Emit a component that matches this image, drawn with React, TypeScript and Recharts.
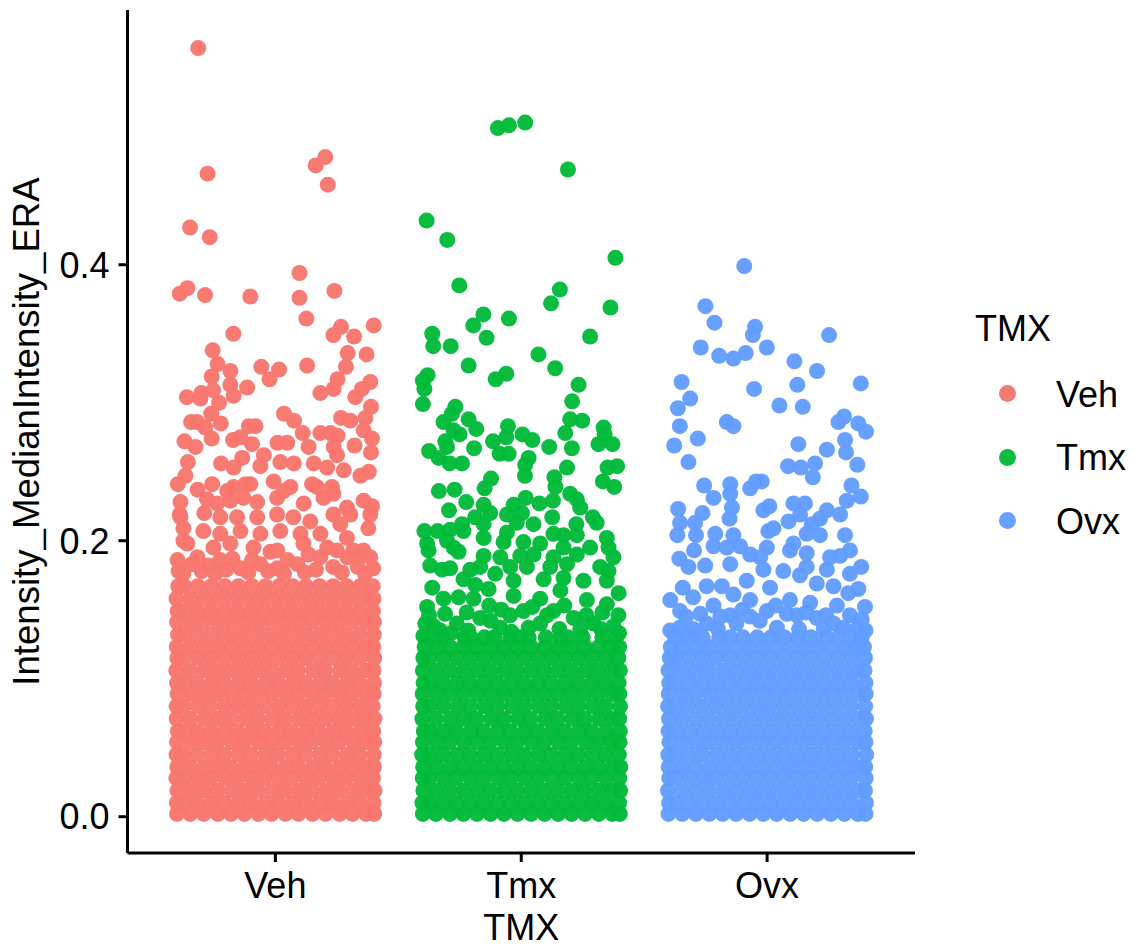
import React from "react";
import { ScatterChart, Scatter, XAxis, YAxis, Legend, Label } from "recharts";

const categories = ["Veh", "Tmx", "Ovx"];
const colors = ["#F8766D", "#00BA38", "#619CFF"];
const yTicks = [0, 0.2, 0.4];
const xTicks = [1, 2, 3];

// [jitter offset from the category, value]
const vehSparse = [
  [-0.314,0.557],[-0.276,0.466],[0.203,0.478],[0.164,0.472],[0.213,0.458],[-0.347,0.427],[-0.267,0.420],[0.098,0.394],
  [0.240,0.381],[-0.358,0.383],[-0.389,0.379],[-0.286,0.378],[-0.102,0.377],[0.098,0.376],[0.126,0.361],[0.400,0.356],
  [0.267,0.355],[-0.171,0.350],[0.236,0.349],[0.320,0.348],[-0.255,0.338],[0.294,0.336],[0.371,0.335],[-0.235,0.328],
  [-0.057,0.326],[0.129,0.327],[0.287,0.326],[0.015,0.324],[-0.183,0.323],[-0.259,0.319],[-0.024,0.317],[0.253,0.317],
  [0.386,0.315],[-0.183,0.313],[-0.115,0.311],[0.237,0.310],[-0.253,0.309],[0.352,0.310],[-0.360,0.304],[-0.301,0.307],
  [-0.305,0.303],[-0.170,0.305],[0.183,0.307],[0.325,0.304],[-0.229,0.300],[0.389,0.297],[-0.261,0.292],[0.035,0.292],
  [0.076,0.287],[0.267,0.289],[0.305,0.287],[0.366,0.289],[-0.343,0.286],[-0.318,0.286],[-0.222,0.285],[-0.108,0.283],
  [-0.081,0.283],[-0.285,0.282],[0.359,0.280],[0.111,0.278],[0.183,0.278],[0.224,0.278],[0.253,0.276],[-0.142,0.275],
  [-0.172,0.273],[-0.259,0.274],[-0.370,0.272],[0.393,0.274],[-0.095,0.270],[0.009,0.271],[0.048,0.271],[-0.325,0.268],
  [0.135,0.268],[0.322,0.269],[0.237,0.268],[0.389,0.264],[-0.047,0.262],[-0.135,0.260],[0.251,0.262],[-0.356,0.257],
  [-0.221,0.256],[-0.170,0.253],[-0.061,0.254],[0.020,0.257],[0.075,0.256],[0.156,0.256],[0.210,0.253],[0.278,0.251],
  [0.380,0.250],[0.346,0.247],[-0.366,0.247],[-0.397,0.241],[-0.257,0.241],[-0.316,0.237],[-0.170,0.239],[-0.102,0.241],
  [-0.007,0.243],[0.061,0.239],[0.149,0.241],[0.230,0.239],[-0.278,0.230],[-0.386,0.228],[-0.183,0.229],[-0.074,0.228],
  [0.007,0.231],[0.115,0.227],[0.196,0.231],[0.291,0.224],[0.359,0.229],[0.393,0.225],[-0.289,0.220],[-0.389,0.219],
  [-0.196,0.236],[-0.122,0.241],[0.033,0.236],[0.169,0.239],[0.236,0.234],[-0.130,0.231],[-0.386,0.217],[-0.374,0.209],
  [-0.237,0.227],[-0.224,0.217],[-0.156,0.217],[-0.074,0.217],[0.007,0.219],[0.073,0.217],[0.142,0.214],[0.236,0.219],
  [0.305,0.219],[0.386,0.219],[0.378,0.209],[0.264,0.212],[-0.293,0.207],[-0.224,0.205],[-0.142,0.207],[-0.061,0.205],
  [0.020,0.207],[0.102,0.205],[0.183,0.205],[0.291,0.202],[-0.374,0.200],[-0.358,0.198],[-0.252,0.195],[-0.183,0.198],
  [-0.089,0.195],[0.008,0.193],[0.114,0.198],[0.211,0.195],[0.317,0.193],[0.358,0.193],[-0.398,0.186],[-0.394,0.178],
  [-0.317,0.188],[-0.224,0.186],[-0.061,0.183],[0.049,0.186],[0.183,0.188],[0.293,0.188],[0.398,0.180],[0.386,0.188],
  [-0.142,0.180],[0.008,0.180],
  [-0.375,0.176],[-0.340,0.183],[-0.300,0.178],[-0.270,0.182],[-0.245,0.176],[-0.200,0.179],[-0.175,0.187],[-0.110,0.177],
  [-0.095,0.186],[-0.030,0.178],[-0.020,0.192],[0.035,0.176],[0.090,0.183],[0.120,0.177],[0.135,0.190],[0.165,0.179],
  [0.235,0.181],[0.250,0.193],[0.270,0.177],[0.335,0.181],[0.345,0.190],[0.365,0.176],
];

const tmxSparse = [
  [-0.095,0.499],[-0.050,0.501],[0.016,0.503],[0.190,0.469],[-0.385,0.432],[-0.301,0.418],[0.383,0.405],[-0.252,0.385],
  [0.157,0.382],[0.121,0.372],[0.363,0.369],[-0.154,0.364],[-0.050,0.361],[-0.195,0.356],[-0.141,0.347],[0.280,0.348],
  [-0.362,0.350],[-0.358,0.341],[-0.287,0.341],[0.070,0.335],[-0.214,0.327],[0.138,0.325],[0.233,0.313],[-0.061,0.321],
  [-0.104,0.317],[-0.381,0.320],[-0.400,0.316],[-0.394,0.310],[-0.400,0.299],[0.207,0.301],[-0.268,0.297],[-0.282,0.292],
  [-0.316,0.286],[-0.214,0.288],[-0.183,0.281],[0.199,0.288],[0.248,0.287],[0.335,0.282],[-0.054,0.283],[-0.275,0.280],
  [0.005,0.277],[0.179,0.278],[-0.061,0.275],[-0.251,0.277],[0.045,0.273],[0.339,0.277],[-0.115,0.272],[-0.309,0.272],
  [0.314,0.270],[0.371,0.270],[0.114,0.268],[-0.192,0.267],[0.206,0.267],[-0.302,0.268],[-0.375,0.265],[-0.088,0.263],
  [-0.051,0.263],[-0.336,0.260],[0.030,0.260],[-0.241,0.256],[-0.291,0.256],[0.016,0.255],[0.186,0.253],[0.390,0.254],
  [0.351,0.253],[0.015,0.247],[0.135,0.246],[-0.123,0.245],[0.332,0.243],[-0.149,0.238],[0.139,0.239],[0.378,0.239],
  [-0.271,0.237],[-0.335,0.236],[0.018,0.231],[0.199,0.234],[0.226,0.230],[-0.224,0.228],[-0.153,0.226],[-0.031,0.226],
  [0.074,0.227],[0.129,0.229],[-0.294,0.222],[0.240,0.224],[-0.126,0.220],[-0.058,0.219],[0.003,0.220],[0.126,0.217],
  [-0.187,0.217],[0.291,0.217],[-0.241,0.212],[-0.153,0.212],[-0.018,0.213],[0.050,0.212],[0.307,0.213],[0.224,0.212],
  [-0.394,0.207],[-0.340,0.207],[-0.289,0.208],[-0.235,0.207],[-0.058,0.206],[0.131,0.205],[0.172,0.204],[0.226,0.204],
  [-0.153,0.202],[0.348,0.202],[-0.383,0.198],[-0.302,0.200],[0.009,0.199],[0.077,0.198],[-0.072,0.199],[0.280,0.195],
  [0.355,0.195],[-0.377,0.193],[-0.275,0.195],[-0.255,0.192],[0.172,0.195],[-0.153,0.189],[-0.004,0.189],[0.131,0.188],
  [0.375,0.188],[-0.085,0.188],[0.050,0.190],[0.226,0.190],[-0.370,0.182],[-0.322,0.179],[-0.289,0.180],[-0.207,0.179],
  [-0.167,0.181],[-0.045,0.181],[0.023,0.181],[0.118,0.181],[0.186,0.183],[0.321,0.181],[0.355,0.178],[-0.106,0.176],
  [-0.235,0.172],[-0.031,0.171],[0.091,0.172],[0.172,0.173],[0.253,0.171],[0.348,0.171],[-0.362,0.166],[-0.133,0.165],
  [-0.187,0.168],[0.396,0.162],[-0.255,0.159],[-0.316,0.158],[-0.031,0.160],[0.159,0.164],[0.267,0.157],[-0.383,0.152],
  [-0.081,0.150],[-0.194,0.158],[0.077,0.158],[0.348,0.154],[0.375,0.138],[-0.390,0.140],[-0.167,0.144],[0.009,0.149],
  [0.131,0.149],[-0.262,0.140],[-0.356,0.138],[-0.085,0.137],[0.077,0.140],[0.213,0.144],[0.294,0.140],
  [-0.375,0.146],[-0.330,0.135],[-0.310,0.147],[-0.285,0.133],[-0.222,0.148],[-0.215,0.135],[-0.125,0.142],[-0.130,0.153],
  [-0.045,0.146],[-0.040,0.134],[0.030,0.137],[0.045,0.152],[0.105,0.146],[0.155,0.136],[0.175,0.153],[0.240,0.136],
  [0.265,0.146],[0.330,0.148],[0.325,0.136],[0.395,0.146],[0.398,0.133],[-0.398,0.131],
];

const ovxSparse = [
  [-0.093,0.399],[-0.251,0.370],[-0.214,0.358],[-0.049,0.355],[-0.058,0.349],[0.252,0.349],[-0.270,0.340],[-0.001,0.340],
  [-0.195,0.334],[-0.137,0.332],[-0.087,0.336],[0.111,0.330],[0.203,0.323],[-0.348,0.315],[0.123,0.313],[0.381,0.314],
  [-0.313,0.303],[-0.053,0.310],[-0.363,0.296],[0.050,0.298],[0.145,0.297],[-0.355,0.283],[-0.282,0.274],[-0.164,0.286],
  [-0.137,0.283],[0.313,0.290],[0.290,0.286],[0.371,0.285],[0.402,0.279],[-0.378,0.269],[0.127,0.270],[0.317,0.273],
  [0.243,0.266],[0.321,0.264],[-0.320,0.257],[0.367,0.255],[0.085,0.254],[0.137,0.253],[0.195,0.256],[0.186,0.246],
  [-0.256,0.240],[-0.150,0.241],[-0.045,0.243],[-0.022,0.243],[-0.069,0.238],[0.343,0.240],[-0.150,0.234],[-0.218,0.231],
  [0.381,0.232],[0.324,0.229],[0.107,0.227],[0.154,0.227],[0.009,0.225],[-0.362,0.223],[-0.143,0.224],[-0.015,0.222],
  [0.243,0.222],[-0.263,0.220],[0.297,0.219],[-0.153,0.216],[0.087,0.214],[0.134,0.219],[0.215,0.216],[-0.354,0.213],
  [-0.293,0.213],[0.182,0.212],[0.026,0.209],[-0.365,0.204],[-0.289,0.204],[0.005,0.207],[-0.211,0.205],[-0.137,0.204],
  [0.215,0.204],[0.161,0.205],[0.317,0.204],[0.107,0.198],[-0.110,0.196],[-0.218,0.196],[-0.001,0.195],[-0.164,0.195],
  [-0.297,0.193],[0.337,0.193],[0.093,0.193],[0.161,0.191],[-0.357,0.187],[-0.069,0.190],[0.256,0.188],[0.297,0.189],
  [-0.028,0.188],[-0.150,0.183],[-0.320,0.181],[-0.252,0.182],[0.383,0.181],[-0.015,0.179],[0.066,0.178],[0.161,0.181],
  [0.243,0.179],[0.337,0.176],[0.134,0.175],[-0.083,0.171],[0.270,0.167],[-0.343,0.166],[-0.246,0.167],[-0.184,0.167],
  [0.371,0.165],[0.330,0.162],[0.012,0.166],[0.202,0.169],[-0.394,0.157],[-0.137,0.161],[-0.301,0.159],[0.093,0.157],
  [-0.069,0.157],[0.175,0.155],[-0.218,0.153],[0.284,0.153],[0.398,0.152],[-0.354,0.149],[-0.001,0.149],[-0.150,0.146],
  [0.121,0.146],[0.337,0.146],[-0.272,0.147],[-0.069,0.145],[0.202,0.144],[-0.394,0.135],
  [-0.355,0.137],[-0.330,0.145],[-0.300,0.136],[-0.245,0.140],[-0.190,0.145],[-0.200,0.136],[-0.125,0.140],[-0.100,0.150],
  [-0.030,0.142],[0.040,0.137],[0.035,0.153],[0.080,0.147],[0.130,0.136],[0.160,0.148],[0.240,0.146],[0.230,0.136],
  [0.270,0.140],[0.310,0.137],[0.385,0.143],[0.370,0.137],[0.400,0.135],
];

// Packed lower band: [value, ...jitter offsets read along that band]
const vehBand = [
  [0.002,-0.400,-0.346,-0.291,-0.234,-0.181,-0.126,-0.069,-0.016,0.041,0.094,0.151,0.204,0.261,0.314,0.369,0.402],
  [0.010,-0.401,-0.372,-0.318,-0.261,-0.208,-0.151,-0.098,-0.041,0.012,0.069,0.122,0.179,0.232,0.289,0.342,0.399],
  [0.019,-0.398,-0.344,-0.292,-0.236,-0.179,-0.125,-0.071,-0.014,0.039,0.096,0.149,0.206,0.259,0.316,0.371,0.403],
  [0.028,-0.403,-0.371,-0.316,-0.263,-0.206,-0.153,-0.096,-0.043,0.014,0.067,0.124,0.177,0.234,0.287,0.344,0.397],
  [0.036,-0.399,-0.347,-0.289,-0.235,-0.182,-0.124,-0.070,-0.017,0.042,0.093,0.152,0.203,0.262,0.313,0.368,0.401],
  [0.045,-0.402,-0.373,-0.317,-0.260,-0.209,-0.150,-0.099,-0.040,0.011,0.070,0.121,0.180,0.231,0.290,0.341,0.400],
  [0.054,-0.400,-0.345,-0.290,-0.237,-0.178,-0.127,-0.068,-0.015,0.040,0.097,0.148,0.207,0.258,0.317,0.370,0.402],
  [0.062,-0.397,-0.370,-0.319,-0.262,-0.205,-0.154,-0.095,-0.044,0.015,0.066,0.125,0.176,0.235,0.286,0.345,0.398],
  [0.071,-0.401,-0.346,-0.288,-0.233,-0.180,-0.123,-0.072,-0.013,0.038,0.095,0.150,0.205,0.260,0.315,0.367,0.403],
  [0.080,-0.402,-0.372,-0.315,-0.264,-0.207,-0.152,-0.097,-0.042,0.013,0.068,0.123,0.178,0.233,0.288,0.343,0.396],
  [0.089,-0.398,-0.344,-0.291,-0.236,-0.181,-0.126,-0.071,-0.016,0.041,0.094,0.151,0.204,0.261,0.314,0.372,0.400],
  [0.097,-0.400,-0.371,-0.318,-0.259,-0.208,-0.149,-0.098,-0.039,0.012,0.071,0.122,0.181,0.232,0.291,0.342,0.401],
  [0.106,-0.403,-0.347,-0.289,-0.234,-0.179,-0.124,-0.069,-0.014,0.043,0.092,0.153,0.202,0.263,0.312,0.369,0.399],
  [0.115,-0.399,-0.373,-0.317,-0.262,-0.206,-0.151,-0.096,-0.041,0.014,0.069,0.124,0.179,0.234,0.289,0.344,0.402],
  [0.123,-0.401,-0.345,-0.290,-0.235,-0.180,-0.125,-0.070,-0.015,0.040,0.095,0.150,0.205,0.260,0.315,0.370,0.398],
  [0.132,-0.396,-0.370,-0.316,-0.261,-0.207,-0.152,-0.097,-0.042,0.013,0.068,0.123,0.178,0.233,0.288,0.343,0.400],
  [0.141,-0.400,-0.346,-0.292,-0.236,-0.181,-0.126,-0.071,-0.016,0.039,0.094,0.149,0.204,0.259,0.314,0.369,0.401],
  [0.149,-0.398,-0.372,-0.318,-0.263,-0.208,-0.153,-0.098,-0.043,0.012,0.067,0.122,0.177,0.232,0.287,0.342,0.397],
  [0.158,-0.402,-0.344,-0.288,-0.233,-0.178,-0.123,-0.068,-0.013,0.042,0.097,0.152,0.207,0.262,0.317,0.372,0.399],
  [0.167,-0.395,-0.371,-0.315,-0.260,-0.205,-0.150,-0.095,-0.040,0.015,0.070,0.125,0.180,0.235,0.290,0.345,0.396],
];

const tmxBand = [
  [0.002,-0.400,-0.347,-0.290,-0.235,-0.180,-0.125,-0.070,-0.015,0.040,0.095,0.150,0.205,0.260,0.315,0.370,0.401],
  [0.010,-0.402,-0.371,-0.317,-0.262,-0.207,-0.152,-0.097,-0.042,0.013,0.068,0.123,0.178,0.233,0.288,0.343,0.398],
  [0.019,-0.398,-0.345,-0.291,-0.234,-0.179,-0.126,-0.069,-0.016,0.041,0.094,0.149,0.206,0.259,0.316,0.369,0.402],
  [0.028,-0.401,-0.373,-0.316,-0.263,-0.206,-0.153,-0.096,-0.043,0.014,0.067,0.124,0.177,0.234,0.287,0.344,0.399],
  [0.036,-0.399,-0.346,-0.289,-0.236,-0.181,-0.124,-0.071,-0.014,0.039,0.096,0.151,0.204,0.261,0.314,0.371,0.403],
  [0.045,-0.403,-0.372,-0.318,-0.261,-0.208,-0.151,-0.098,-0.041,0.012,0.069,0.122,0.179,0.232,0.289,0.342,0.397],
  [0.054,-0.400,-0.344,-0.292,-0.233,-0.178,-0.127,-0.068,-0.017,0.042,0.093,0.152,0.203,0.262,0.313,0.368,0.400],
  [0.062,-0.396,-0.370,-0.315,-0.264,-0.205,-0.154,-0.095,-0.044,0.015,0.066,0.125,0.176,0.235,0.286,0.345,0.401],
  [0.071,-0.402,-0.347,-0.288,-0.235,-0.182,-0.123,-0.072,-0.013,0.038,0.097,0.148,0.207,0.258,0.317,0.370,0.398],
  [0.080,-0.399,-0.372,-0.317,-0.260,-0.207,-0.150,-0.097,-0.040,0.013,0.070,0.123,0.180,0.233,0.290,0.343,0.402],
  [0.089,-0.401,-0.345,-0.290,-0.237,-0.180,-0.125,-0.070,-0.015,0.040,0.095,0.150,0.205,0.260,0.315,0.372,0.399],
  [0.097,-0.397,-0.371,-0.319,-0.262,-0.209,-0.152,-0.099,-0.042,0.011,0.068,0.121,0.178,0.231,0.288,0.341,0.396],
  [0.106,-0.400,-0.346,-0.291,-0.234,-0.179,-0.126,-0.069,-0.016,0.041,0.094,0.151,0.204,0.261,0.314,0.369,0.401],
  [0.115,-0.398,-0.373,-0.316,-0.261,-0.206,-0.151,-0.096,-0.041,0.014,0.069,0.124,0.179,0.234,0.289,0.344,0.395],
  [0.123,-0.393,-0.344,-0.290,-0.236,-0.181,-0.124,-0.071,-0.014,0.039,0.096,0.149,0.206,0.259,0.316,0.366,0.398],
  [0.130,-0.380,-0.320,-0.230,-0.205,-0.150,-0.110,-0.045,-0.005,0.030,0.100,0.160,0.190,0.250,0.330,0.385],
];

const ovxBand = [
  [0.002,-0.401,-0.345,-0.290,-0.235,-0.181,-0.126,-0.071,-0.016,0.039,0.094,0.149,0.204,0.259,0.314,0.369,0.400],
  [0.010,-0.399,-0.372,-0.317,-0.262,-0.207,-0.152,-0.097,-0.042,0.013,0.068,0.123,0.178,0.233,0.288,0.343,0.402],
  [0.019,-0.403,-0.346,-0.291,-0.236,-0.179,-0.124,-0.069,-0.014,0.041,0.096,0.151,0.206,0.261,0.316,0.371,0.398],
  [0.028,-0.398,-0.371,-0.316,-0.261,-0.208,-0.153,-0.098,-0.043,0.012,0.067,0.122,0.177,0.232,0.287,0.342,0.401],
  [0.036,-0.400,-0.347,-0.292,-0.234,-0.180,-0.125,-0.070,-0.015,0.040,0.095,0.150,0.205,0.260,0.315,0.368,0.399],
  [0.045,-0.402,-0.373,-0.318,-0.263,-0.206,-0.151,-0.096,-0.041,0.014,0.069,0.124,0.179,0.234,0.289,0.344,0.403],
  [0.054,-0.397,-0.344,-0.289,-0.237,-0.182,-0.127,-0.072,-0.017,0.038,0.093,0.148,0.203,0.258,0.313,0.370,0.400],
  [0.062,-0.401,-0.370,-0.315,-0.260,-0.205,-0.150,-0.095,-0.040,0.015,0.070,0.125,0.180,0.235,0.290,0.345,0.397],
  [0.071,-0.399,-0.346,-0.290,-0.235,-0.178,-0.123,-0.068,-0.013,0.042,0.097,0.152,0.207,0.262,0.317,0.372,0.402],
  [0.080,-0.403,-0.372,-0.319,-0.264,-0.209,-0.154,-0.099,-0.044,0.011,0.066,0.121,0.176,0.231,0.286,0.341,0.399],
  [0.089,-0.400,-0.345,-0.291,-0.233,-0.181,-0.126,-0.071,-0.016,0.039,0.094,0.149,0.204,0.259,0.314,0.369,0.401],
  [0.097,-0.398,-0.371,-0.316,-0.261,-0.207,-0.152,-0.097,-0.042,0.013,0.068,0.123,0.178,0.233,0.288,0.343,0.400],
  [0.106,-0.401,-0.347,-0.292,-0.237,-0.180,-0.125,-0.070,-0.015,0.040,0.095,0.150,0.205,0.260,0.315,0.370,0.396],
  [0.115,-0.396,-0.373,-0.318,-0.262,-0.208,-0.151,-0.096,-0.041,0.014,0.069,0.124,0.179,0.234,0.289,0.344,0.398],
  [0.123,-0.392,-0.344,-0.289,-0.234,-0.179,-0.124,-0.069,-0.014,0.041,0.096,0.151,0.206,0.261,0.316,0.365,0.394],
  [0.130,-0.375,-0.318,-0.262,-0.195,-0.150,-0.098,-0.040,0.016,0.070,0.125,0.178,0.240,0.290,0.345,0.385],
];

const buildRows = (categoryIndex: number, sparse: number[][], band: number[][]) => {
  const centre = categoryIndex + 1;
  const points: { x: number; y: number }[] = [];
  band.forEach(([value, ...offsets]) => offsets.forEach((o) => points.push({ x: centre + o, y: value })));
  sparse.forEach(([o, value]) => points.push({ x: centre + o, y: value }));
  return points;
};

const vehRows = buildRows(0, vehSparse, vehBand);
const tmxRows = buildRows(1, tmxSparse, tmxBand);
const ovxRows = buildRows(2, ovxSparse, ovxBand);

const FONT = "'Liberation Sans', Arial, sans-serif";
const MARK_OPACITY = 0.96;
const MARK_RADIUS = 8;

const Dot = (props: any) => (
  <circle cx={props.cx} cy={props.cy} r={MARK_RADIUS} fill={props.fill} fillOpacity={MARK_OPACITY} />
);

const LegendBox = () => (
  <div style={{ position: "relative", width: 1135, height: 947, fontFamily: FONT, color: "#000", pointerEvents: "none" }}>
    <div style={{ position: "absolute", left: 975, top: 309, fontSize: 36, lineHeight: "40px" }}>TMX</div>
    {categories.map((name, i) => (
      <React.Fragment key={name}>
        <div
          style={{
            position: "absolute",
            left: 999,
            top: [385, 449, 512][i],
            width: 17,
            height: 17,
            borderRadius: "50%",
            background: colors[i],
            opacity: MARK_OPACITY,
          }}
        />
        <div style={{ position: "absolute", left: 1056, top: [375, 438, 502][i], fontSize: 36, lineHeight: "40px" }}>{name}</div>
      </React.Fragment>
    ))}
  </div>
);

export default function App() {
  return (
    <div style={{ position: "absolute", left: 0, top: 0, width: 1135, height: 947, background: "#fff" }}>
      <ScatterChart width={1135} height={947} margin={{ top: 10, right: 220, bottom: 0, left: 0 }} style={{ fontFamily: FONT }}>
        <XAxis
          type="number"
          dataKey="x"
          domain={[0.3985, 3.6015]}
          ticks={xTicks}
          allowDataOverflow
          tickFormatter={(v: number) => categories[v - 1]}
          height={94}
          tick={{ fill: "#000", fontSize: 36 }}
          tickSize={9}
          tickMargin={10}
          axisLine={{ stroke: "#000", strokeWidth: 3 }}
          tickLine={{ stroke: "#000", strokeWidth: 3 }}
        >
          <Label value="TMX" position="insideBottom" offset={7} fill="#000" fontSize={36} />
        </XAxis>
        <YAxis
          type="number"
          dataKey="y"
          domain={[-0.0263, 0.5846]}
          ticks={yTicks}
          allowDataOverflow
          tickFormatter={(v: number) => v.toFixed(1)}
          width={127.5}
          tick={{ fill: "#000", fontSize: 36 }}
          tickSize={9}
          tickMargin={9}
          axisLine={{ stroke: "#000", strokeWidth: 3 }}
          tickLine={{ stroke: "#000", strokeWidth: 3 }}
        >
          <Label
            value="Intensity_MedianIntensity_ERA"
            angle={-90}
            position="insideLeft"
            offset={0}
            fill="#000"
            fontSize={36.6}
            style={{ textAnchor: "middle" }}
            dx={26}
          />
        </YAxis>
        <Legend
          layout="vertical"
          align="center"
          verticalAlign="middle"
          content={<LegendBox />}
          wrapperStyle={{ left: 0, top: 0, width: 1135, height: 947 }}
        />
        <Scatter name={categories[0]} data={vehRows} fill={colors[0]} shape={<Dot />} isAnimationActive={false} />
        <Scatter name={categories[1]} data={tmxRows} fill={colors[1]} shape={<Dot />} isAnimationActive={false} />
        <Scatter name={categories[2]} data={ovxRows} fill={colors[2]} shape={<Dot />} isAnimationActive={false} />
      </ScatterChart>
    </div>
  );
}
